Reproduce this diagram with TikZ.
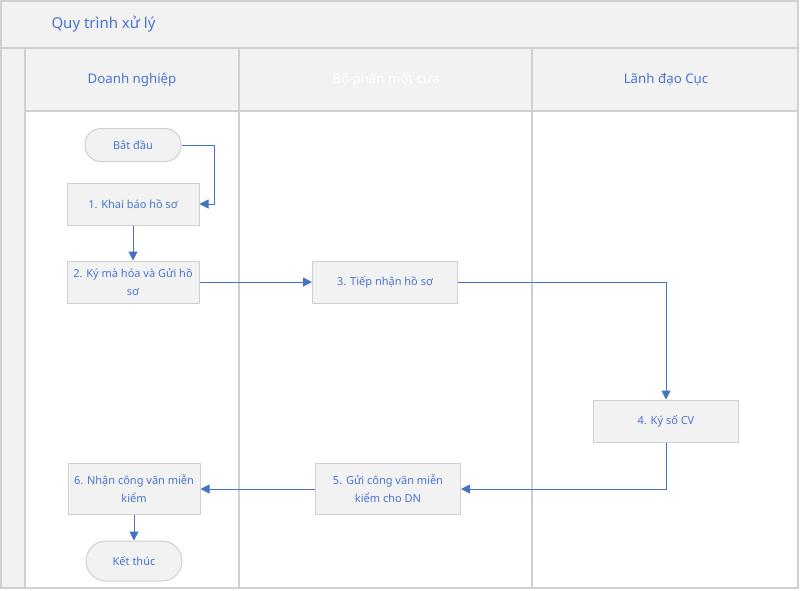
\documentclass[tikz,border=0pt]{standalone}
\usepackage{fontspec}
\setmainfont{Noto Sans}
\usetikzlibrary{arrows.meta}
\definecolor{flowblue}{HTML}{4472C4}
\definecolor{textblue}{HTML}{4A74CF}
\definecolor{paleface}{HTML}{F2F2F2}
\definecolor{edgegrey}{HTML}{D0D0D0}
\begin{document}
\begin{tikzpicture}[x=1pt,y=-1pt,
        lanehead/.style={font=\fontsize{13.3}{16}\selectfont,text=textblue},
        stepbox/.style={draw=edgegrey,fill=paleface,line width=1pt,
            minimum width=132pt,minimum height=42pt,inner sep=2pt,
            align=center,text=textblue,font=\fontsize{11}{18}\selectfont},
        terminal/.style={draw=edgegrey,fill=paleface,line width=1pt,
            rounded corners=16pt,minimum width=96pt,minimum height=33pt,
            text=textblue,font=\fontsize{11}{13}\selectfont},
        flow/.style={draw=flowblue,line width=1pt,-{Triangle[length=9pt,width=9pt]}}]
    \useasboundingbox (0,0) rectangle (800,590);
    % pool and lanes
    \fill[white] (0,0) rectangle (800,590);
    \fill[paleface] (1,1) rectangle (798,48);
    \fill[paleface] (1,48) rectangle (25,588);
    \fill[paleface] (25,48) rectangle (798,111);
    \draw[edgegrey,line width=1.5pt] (1,1) rectangle (798,588);
    \draw[edgegrey,line width=1.2pt] (1,48) -- (798,48);
    \draw[edgegrey,line width=1.2pt] (25,111) -- (798,111);
    \foreach \x in {25,239,532}{
        \draw[edgegrey,line width=1.2pt] (\x,48) -- (\x,588);
    }
    \node[anchor=west,text=textblue,font=\fontsize{15}{18}\selectfont] (title) at (48,24) {Quy trình xử lý};
    \node[lanehead] (dn) at (132,80) {Doanh nghiệp};
    \node[lanehead,text=white] (bp) at (386,80) {Bộ phận một cửa};
    \node[lanehead] (ld) at (666,80) {Lãnh đạo Cục};
    % steps
    \node[terminal] (start) at (133,145) {Bắt đầu};
    \node[stepbox] (n1) at (133,204) {1. Khai báo hồ sơ};
    \node[stepbox] (n2) at (133,282) {2. Ký mà hóa và Gửi hồ\\sơ};
    \node[stepbox,minimum width=145pt] (n3) at (385,282) {3. Tiếp nhận hồ sơ};
    \node[stepbox,minimum width=145pt] (n4) at (666,421) {4. Ký số CV};
    \node[stepbox,minimum width=145pt,minimum height=51pt] (n5) at (388,489) {5. Gửi công văn miễn\\kiểm cho DN};
    \node[stepbox,minimum height=51pt] (n6) at (134,489) {6. Nhận công văn miễn\\kiểm};
    \node[terminal,minimum height=40pt,rounded corners=20pt] (stop) at (134,561) {Kết thúc};
    % connectors
    \draw[flow] (start.east) -- ++(33,0) |- (n1.east);
    \draw[flow] (n1.south) -- (n2.north);
    \draw[flow] (n2.east) -- (n3.west);
    \draw[flow] (n3.east) -| (n4.north);
    \draw[flow] (n4.south) |- (n5.east);
    \draw[flow] (n5.west) -- (n6.east);
    \draw[flow] (n6.south) -- (stop.north);
\end{tikzpicture}
\end{document}
